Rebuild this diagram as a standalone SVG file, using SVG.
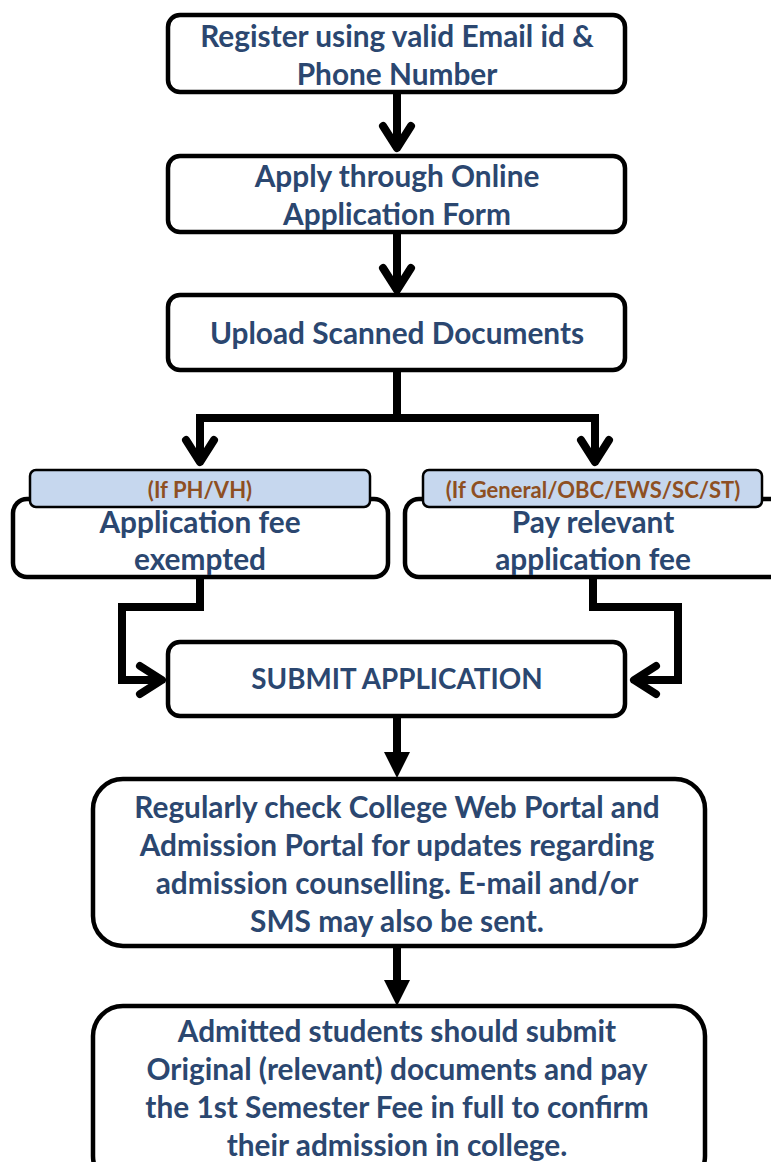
<svg xmlns="http://www.w3.org/2000/svg" width="771" height="1162" viewBox="0 0 771 1162">
<style>
.box{fill:#fff;stroke:#000;stroke-width:4.5}
.lab{fill:#C6D7EE;stroke:#000;stroke-width:2.5}
.t{font-family:Lato,"Liberation Sans",sans-serif;font-weight:bold;font-size:29.8px;fill:#2B4770;text-anchor:middle;dominant-baseline:central}
.s{font-size:27.8px}
.l{font-family:Lato,"Liberation Sans",sans-serif;font-weight:bold;font-size:22px;fill:#8E4F22;text-anchor:middle;dominant-baseline:central}
.c{fill:none;stroke:#000;stroke-width:8;stroke-linejoin:miter}
.h{fill:none;stroke:#000;stroke-width:8;stroke-linecap:round;stroke-linejoin:round}
</style>
<rect width="771" height="1162" fill="#fff"/>
<g id="connectors">
<path class="c" d="M397 92V148"/>
<path class="h" d="M383 126L397 148L411 126"/>
<path class="c" d="M397 232V290"/>
<path class="h" d="M383 268L397 290L411 268"/>
<path class="c" d="M397 370V418M200 418H595M200 414V462M595 414V462"/>
<path class="h" d="M186 440L200 462L214 440M581 440L595 462L609 440"/>
<path class="c" d="M200 577V607H122V680H162"/>
<path class="h" d="M140 666L162 680L140 694"/>
<path class="c" d="M593 577V607H678V680H634"/>
<path class="h" d="M656 666L634 680L656 694"/>
<path class="c" d="M397 716V755"/>
<path d="M384 752H410L397 778Z" fill="#000"/>
<path class="c" d="M397 946V983"/>
<path d="M384 980H410L397 1006Z" fill="#000"/>
</g>
<g id="n1"><rect class="box" x="168" y="15" width="457" height="77" rx="12"/><text class="t" x="397" y="35">Register using valid Email id &amp;</text><text class="t" x="397" y="73">Phone Number</text></g>
<g id="n2"><rect class="box" x="168" y="156" width="457" height="76" rx="12"/><text class="t" x="397" y="175">Apply through Online</text><text class="t" x="397" y="213">Application Form</text></g>
<g id="n3"><rect class="box" x="168" y="295" width="457" height="75" rx="12"/><text class="t" x="397" y="332">Upload Scanned Documents</text></g>
<g id="n4"><rect class="box" x="13" y="499" width="375" height="78" rx="14"/><rect class="lab" x="30" y="470" width="340" height="37" rx="6"/><text class="l" x="200" y="489">(If PH/VH)</text><text class="t" x="200" y="521">Application fee</text><text class="t" x="200" y="558">exempted</text></g>
<g id="n5"><rect class="box" x="405" y="499" width="385" height="78" rx="14"/><rect class="lab" x="423" y="470" width="339" height="37" rx="6"/><text class="l" x="593" y="489">(If General/OBC/EWS/SC/ST)</text><text class="t" x="593" y="521">Pay relevant</text><text class="t" x="593" y="558">application fee</text></g>
<g id="n6"><rect class="box" x="168" y="642" width="457" height="74" rx="12"/><text class="t s" x="397" y="678">SUBMIT APPLICATION</text></g>
<g id="n7"><rect class="box" x="93" y="779" width="612" height="167" rx="30"/><text class="t" x="397" y="806">Regularly check College Web Portal and</text><text class="t" x="397" y="844">Admission Portal for updates regarding</text><text class="t" x="397" y="882">admission counselling. E-mail and/or</text><text class="t" x="397" y="920">SMS may also be sent.</text></g>
<g id="n8"><rect class="box" x="93" y="1006" width="612" height="180" rx="30"/><text class="t" x="397" y="1030">Admitted students should submit</text><text class="t" x="397" y="1068">Original (relevant) documents and pay</text><text class="t" x="397" y="1106">the 1st Semester Fee in full to confirm</text><text class="t" x="397" y="1144">their admission in college.</text></g>
</svg>
